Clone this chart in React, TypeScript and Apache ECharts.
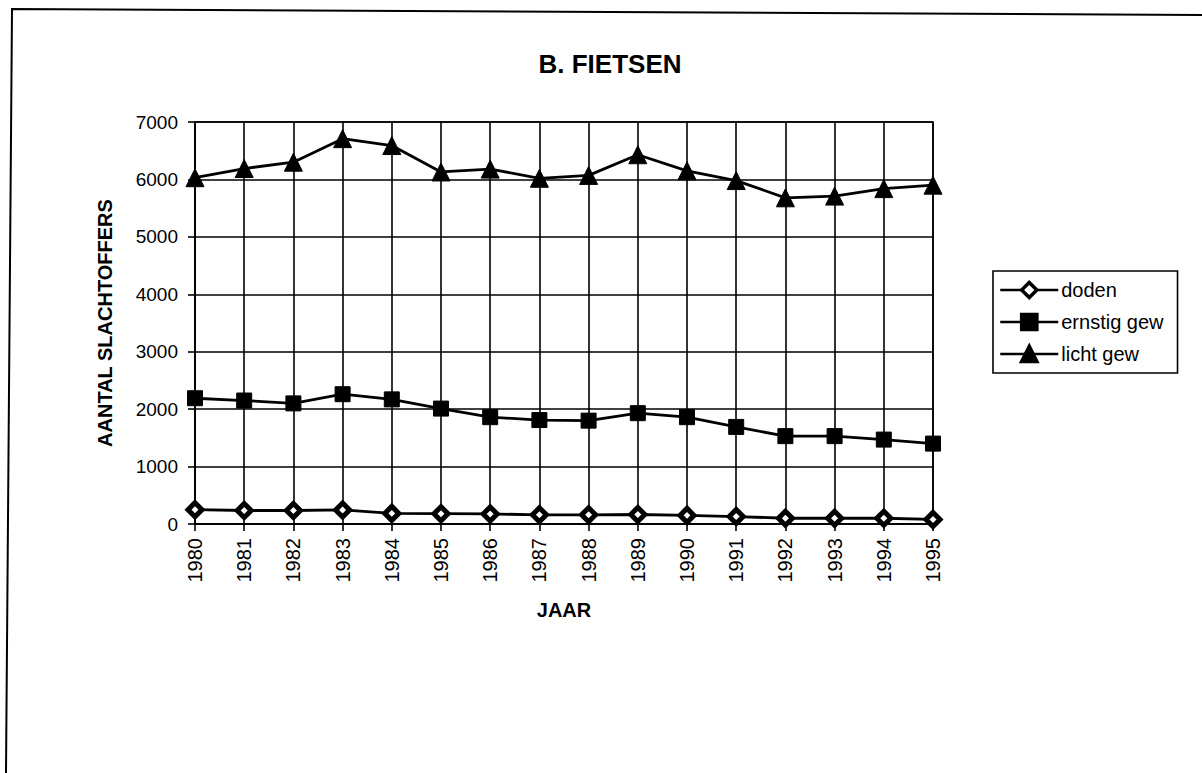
import React, { useEffect, useRef } from "react";
import * as echarts from "echarts";

const years = ["1980","1981","1982","1983","1984","1985","1986","1987","1988","1989","1990","1991","1992","1993","1994","1995"];
const doden = [250, 235, 235, 245, 185, 180, 175, 160, 160, 165, 150, 130, 100, 100, 100, 80];
const ernstigGew = [2190, 2150, 2100, 2260, 2170, 2010, 1860, 1810, 1800, 1930, 1860, 1690, 1530, 1530, 1470, 1400];
const lichtGew = [6030, 6190, 6300, 6710, 6590, 6130, 6180, 6020, 6070, 6430, 6150, 5980, 5680, 5710, 5840, 5900];
const seriesNames = ["doden", "ernstig gew", "licht gew"];

const FONT = "'Liberation Sans', Arial, sans-serif";

export default function App() {
  const ref = useRef<HTMLDivElement>(null);
  useEffect(() => {
    if (!ref.current) return;
    const chart = echarts.init(ref.current, null, { renderer: "svg" });
    const lineStyle = { color: "#000", width: 2.8 };
    chart.setOption({
      animation: false,
      backgroundColor: "#fff",
      textStyle: { fontFamily: FONT, color: "#000" },
      grid: {
        left: 195, right: 269, top: 122, bottom: 249,
        show: true, borderColor: "#000", borderWidth: 1.6, backgroundColor: "transparent",
      },
      legend: {
        orient: "vertical",
        left: 993, top: 271,
        data: seriesNames,
        borderColor: "#000", borderWidth: 1.6,
        padding: [9, 14, 9, 6],
        itemGap: 12,
        itemWidth: 58, itemHeight: 19,
        lineStyle: { width: 2.5, color: "#000" },
        itemStyle: { borderWidth: 3.5, borderColor: "#000" },
        textStyle: { fontFamily: FONT, fontSize: 20, color: "#000", padding: [0, 0, 0, -2] },
      },
      xAxis: {
        type: "category",
        data: years,
        boundaryGap: false,
        name: "JAAR",
        nameLocation: "middle",
        nameGap: 76,
        nameTextStyle: { fontFamily: FONT, fontSize: 20, fontWeight: "bold", color: "#000" },
        axisLine: { lineStyle: { color: "#000", width: 1.6 } },
        axisTick: { show: true, length: 7, alignWithLabel: true, lineStyle: { color: "#000", width: 1.6 } },
        axisLabel: { rotate: 90, fontSize: 20, color: "#000", fontFamily: FONT, margin: 14, interval: 0 },
        splitLine: { show: true, lineStyle: { color: "#000", width: 1.6 } },
      },
      yAxis: {
        type: "value",
        min: 0, max: 7000, interval: 1000,
        name: "AANTAL SLACHTOFFERS",
        nameLocation: "middle",
        nameGap: 80,
        nameTextStyle: { fontFamily: FONT, fontSize: 20, fontWeight: "bold", color: "#000" },
        axisLine: { show: true, lineStyle: { color: "#000", width: 1.6 } },
        axisTick: { show: true, length: 7, lineStyle: { color: "#000", width: 1.6 } },
        axisLabel: {
          fontSize: 19, color: "#000", fontFamily: FONT, margin: 17,
          formatter: (v: number) => String(v),
        },
        splitLine: { show: true, lineStyle: { color: "#000", width: 1.6 } },
      },
      graphic: [
        {
          type: "polyline",
          shape: { points: [[6, 773], [12, 9], [1202, 15]] },
          style: { stroke: "#000", lineWidth: 2, fill: null },
          silent: true,
        },
        {
          type: "text",
          x: 610, y: 64,
          style: {
            text: "B. FIETSEN", fontFamily: FONT, fontSize: 26, fontWeight: "bold",
            fill: "#000", align: "center", verticalAlign: "middle",
          },
        },
      ],
      series: [
        {
          name: seriesNames[0], type: "line", data: doden,
          symbol: "diamond", symbolSize: 14,
          itemStyle: { color: "#fff", borderColor: "#000", borderWidth: 5 },
          lineStyle,
        },
        {
          name: seriesNames[1], type: "line", data: ernstigGew,
          symbol: "rect", symbolSize: 15,
          itemStyle: { color: "#000", borderColor: "#000" },
          lineStyle,
        },
        {
          name: seriesNames[2], type: "line", data: lichtGew,
          symbol: "triangle", symbolSize: 18,
          itemStyle: { color: "#000", borderColor: "#000" },
          lineStyle,
        },
      ],
    });
    return () => chart.dispose();
  }, []);
  return (
    <div
      ref={ref}
      style={{ position: "fixed", left: 0, top: 0, width: 1202, height: 773, background: "#fff" }}
    />
  );
}
